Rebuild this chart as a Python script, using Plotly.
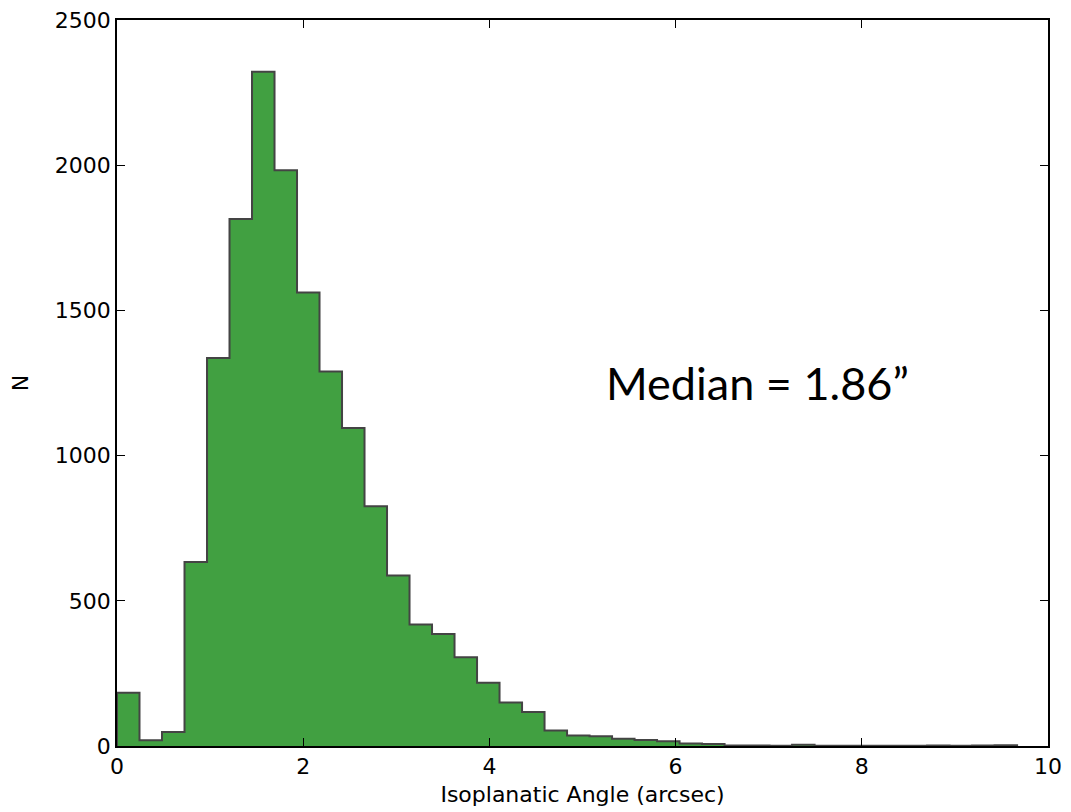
import plotly.graph_objects as go

# Histogram data (40 equal-width bins from 0 to ~9.67 arcsec)
bin_start = 0.0
bin_width = 0.2417
counts = [183, 20, 48, 634, 1336, 1815, 2322, 1983, 1562, 1290,
          1095, 826, 587, 418, 386, 306, 218, 150, 117, 53,
          36, 34, 25, 21, 16, 9, 7, 2, 2, 1,
          4, 1, 1, 1, 1, 1, 2, 1, 2, 3]

x_ticks = [0, 2, 4, 6, 8, 10]
y_ticks = [0, 500, 1000, 1500, 2000, 2500]

edges = [bin_start + i * bin_width for i in range(len(counts) + 1)]
xs = [edges[0]] + edges + [edges[-1]]
ys = [0] + counts + [counts[-1], 0]

fig = go.Figure()
fig.add_trace(go.Scatter(
    x=xs, y=ys, mode="lines", line_shape="hv",
    fill="tozeroy", fillcolor="#41a041",
    line=dict(color="#444444", width=2),
    hoverinfo="skip", showlegend=False,
))

fig.add_annotation(
    x=6.88, y=1250, xref="x", yref="y", text="Median = 1.86”",
    showarrow=False, xanchor="center", yanchor="middle",
    font=dict(family="Lato", size=45, color="black"),
)

axis_common = dict(
    showgrid=False, zeroline=False, showline=True, linecolor="black",
    linewidth=1.5, mirror="ticks", ticks="inside", ticklen=8,
    tickcolor="black", tickwidth=1, automargin=False,
    ticklabeloverflow="allow",
    tickfont=dict(family="DejaVu Sans", size=22, color="black"),
)

fig.update_layout(
    width=1071, height=812,
    margin=dict(l=109, r=31, t=12, b=74),
    paper_bgcolor="white", plot_bgcolor="white",
    xaxis=dict(range=[0, 10], tickvals=x_ticks, ticktext=[str(v) for v in x_ticks],
               title=dict(text="Isoplanatic Angle (arcsec)", standoff=8,
                          font=dict(family="DejaVu Sans", size=22, color="black")),
               **axis_common),
    yaxis=dict(range=[0, 2500], tickvals=y_ticks, ticktext=[str(v) for v in y_ticks],
               title=dict(text="N", standoff=22,
                          font=dict(family="DejaVu Sans", size=22, color="black")),
               **axis_common),
)

fig.write_html("out.html")
